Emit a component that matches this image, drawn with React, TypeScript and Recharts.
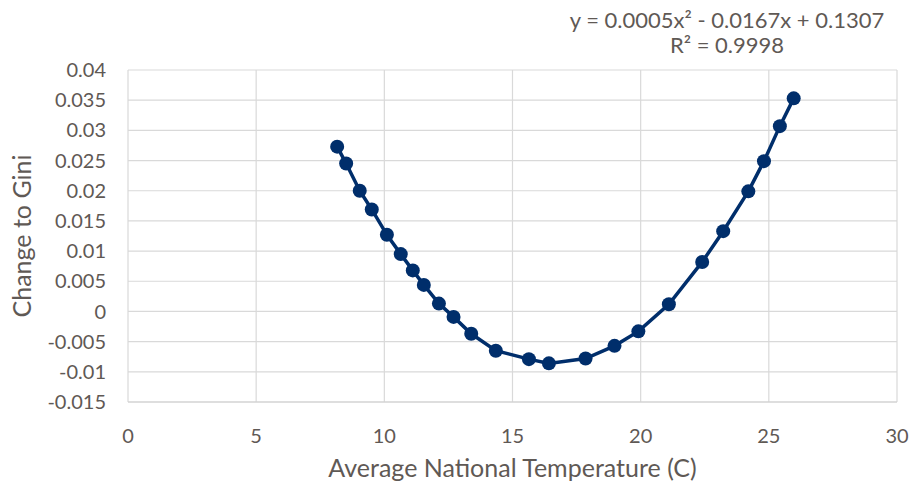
import React from 'react';
import { LineChart, Line, XAxis, YAxis, CartesianGrid, Customized } from 'recharts';

// readings taken off the original Excel chart
const temps = [8.16, 8.51, 9.04, 9.51, 10.1, 10.64, 11.11, 11.54, 12.13, 12.7, 13.39, 14.35, 15.64, 16.42, 17.85, 18.98, 19.91, 21.1, 22.4, 23.22, 24.2, 24.81, 25.43, 25.97];
const giniChange = [0.0273, 0.0245, 0.02, 0.0169, 0.0127, 0.0095, 0.0068, 0.0044, 0.0013, -0.0009, -0.0037, -0.0065, -0.0079, -0.0086, -0.0078, -0.0057, -0.0033, 0.0012, 0.0082, 0.0133, 0.0199, 0.0249, 0.0307, 0.0353];
const xTicks = [0, 5, 10, 15, 20, 25, 30];
const yTicks = [-0.015, -0.01, -0.005, 0, 0.005, 0.01, 0.015, 0.02, 0.025, 0.03, 0.035, 0.04];
const trendEquation = 'y = 0.0005x² - 0.0167x + 0.1307';
const trendR2 = 'R² = 0.9998';

const data = temps.map((t, i) => ({ temp: t, gini: giniChange[i] }));

const FONT = 'Lato, "Open Sans", sans-serif';
const TEXT = '#5f5955';
const NAVY = '#002E6B';

const TrendLabel = () => (
  <g fontFamily={FONT} fontSize={22} fill={TEXT} textAnchor="middle">
    <text x={727} y={28}>{trendEquation}</text>
    <text x={727} y={53}>{trendR2}</text>
  </g>
);

export default function App() {
  return (
    <div style={{ position: 'absolute', left: 0, top: 0 }}>
      <LineChart width={911} height={484} data={data} margin={{ top: 70, right: 14, bottom: 0, left: 0 }}>
        <CartesianGrid stroke="#d9d9d9" strokeWidth={1.2} />
        <XAxis
          type="number"
          dataKey="temp"
          domain={[0, 30]}
          ticks={xTicks}
          height={82}
          tickLine={false}
          axisLine={{ stroke: '#d0d0d0', strokeWidth: 1.2 }}
          tickMargin={21}
          tick={{ fill: TEXT, fontSize: 20, fontFamily: FONT }}
          label={{ value: 'Average National Temperature (C)', position: 'insideBottom', offset: 7, fill: TEXT, fontSize: 25, fontFamily: FONT }}
        />
        <YAxis
          type="number"
          domain={[-0.015, 0.04]}
          ticks={yTicks}
          width={128}
          tickLine={false}
          axisLine={false}
          tickMargin={16}
          tickFormatter={(v: number) => String(v)}
          tick={{ fill: TEXT, fontSize: 20, fontFamily: FONT }}
          label={{ value: 'Change to Gini', angle: -90, position: 'insideLeft', offset: 22, fill: TEXT, fontSize: 25, fontFamily: FONT, style: { textAnchor: 'middle' } }}
        />
        <Line
          dataKey="gini"
          stroke={NAVY}
          strokeWidth={3.5}
          dot={{ r: 7, fill: NAVY, stroke: NAVY, strokeWidth: 0 }}
          isAnimationActive={false}
        />
        <Customized component={TrendLabel} />
      </LineChart>
    </div>
  );
}
